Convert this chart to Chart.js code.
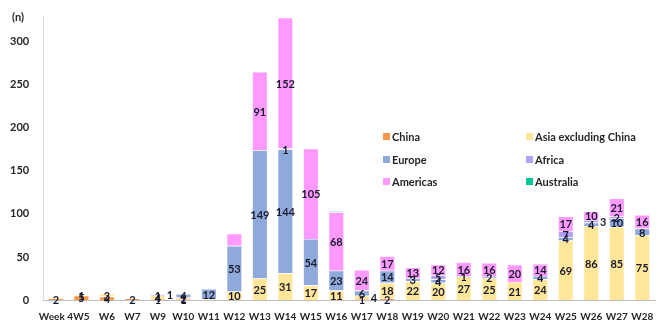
<!DOCTYPE html>
<html>
<head>
<meta charset="utf-8">
<script src="https://cdn.jsdelivr.net/npm/chart.js@4.4.1/dist/chart.umd.min.js"></script>
<style>
  html, body { margin: 0; padding: 0; background: #fff; }
  #wrap { position: relative; width: 667px; height: 332px; }
</style>
</head>
<body>
<div id="wrap"><canvas id="weeklyChart" width="667" height="332"></canvas></div>
<script>
// Categories (weeks)
const weeks = ['Week 4', 'W5', 'W6', 'W7', 'W9', 'W10', 'W11', 'W12', 'W13', 'W14', 'W15', 'W16',
    'W17', 'W18', 'W19', 'W20', 'W21', 'W22', 'W23', 'W24', 'W25', 'W26', 'W27', 'W28'];

// Series values, stacked bottom to top
const china     = [2, 5, 4, 2, 1, 1, 0, 0, 0, 0, 0, 0, 1, 2, 0, 0, 0, 0, 0, 0, 0, 0, 0, 0];
const asiaExCn  = [0, 1, 3, 0, 4, 2, 1, 10, 25, 31, 17, 11, 4, 18, 22, 20, 27, 25, 21, 24, 69, 86, 85, 75];
const europe    = [0, 0, 0, 0, 1, 4, 12, 53, 149, 144, 54, 23, 6, 14, 3, 4, 1, 2, 0, 4, 4, 4, 10, 8];
const africa    = [0, 0, 0, 0, 1, 0, 0, 0, 0, 1, 0, 0, 0, 0, 0, 5, 0, 0, 0, 0, 7, 3, 2, 0];
const americas  = [0, 0, 0, 0, 0, 0, 0, 14, 91, 152, 105, 68, 24, 17, 13, 12, 16, 16, 20, 14, 17, 10, 21, 16];
const australia = [0, 0, 0, 0, 0, 0, 0, 0, 0, 0, 0, 1, 0, 0, 0, 0, 0, 0, 0, 0, 0, 0, 0, 0];

// Tick labels for y axis
const yTicks = [0, 50, 100, 150, 200, 250, 300];

// Segments the original leaves unlabelled, and labels it pushes to the side
const unlabelled = ['Asia excluding China|W11', 'Americas|W12', 'Australia|W16'];
const sideLabels = ['Africa|W9', 'Asia excluding China|W17', 'Africa|W26'];

const fontFamily = 'Lato, "Liberation Sans", sans-serif';
const textColor = '#262626';

// Writes each segment's value in its middle
const valueLabels = {
    id: 'valueLabels',
    afterDatasetsDraw(chart) {
        const ctx = chart.ctx;
        ctx.save();
        ctx.font = 'bold 11px ' + fontFamily;
        ctx.fillStyle = '#1a1a2e';
        ctx.textAlign = 'center';
        ctx.textBaseline = 'middle';
        chart.data.datasets.forEach(function(ds, i) {
            chart.getDatasetMeta(i).data.forEach(function(bar, j) {
                const v = ds.data[j];
                if (!v) return;
                const key = ds.label + '|' + chart.data.labels[j];
                if (unlabelled.indexOf(key) >= 0) return;
                const dx = sideLabels.indexOf(key) >= 0 ? 12 : 0;
                const mid = (bar.y + bar.base) / 2;
                ctx.fillText(v, bar.x + dx, mid + 1);
            });
        });
        ctx.restore();
    }
};

// Two-column legend inside the plot, plus the "(n)" unit label
const innerLegend = {
    id: 'innerLegend',
    afterDraw(chart) {
        const ctx = chart.ctx;
        const ds = chart.data.datasets;
        const cols = [383, 526];
        const rows = [136, 159, 181];
        ctx.save();
        ctx.font = 'bold 11px ' + fontFamily;
        ctx.textBaseline = 'middle';
        ds.forEach(function(d, i) {
            const x = cols[i % 2];
            const y = rows[Math.floor(i / 2)];
            ctx.fillStyle = d.backgroundColor;
            ctx.fillRect(x, y - 3, 7, 7);
            ctx.fillStyle = textColor;
            ctx.textAlign = 'left';
            ctx.fillText(d.label, x + 9, y + 1);
        });
        ctx.fillStyle = textColor;
        ctx.textAlign = 'left';
        ctx.fillText('(n)', 12, 17);
        ctx.restore();
    }
};

const ctx = document.getElementById('weeklyChart').getContext('2d');
new Chart(ctx, {
    type: 'bar',
    data: {
        labels: weeks,
        datasets: [
            { label: 'China', data: china, backgroundColor: '#f79646' },
            { label: 'Asia excluding China', data: asiaExCn, backgroundColor: '#ffe699' },
            { label: 'Europe', data: europe, backgroundColor: '#8eaadb' },
            { label: 'Africa', data: africa, backgroundColor: '#b4a0f5' },
            { label: 'Americas', data: americas, backgroundColor: '#ff99ff' },
            { label: 'Australia', data: australia, backgroundColor: '#00c896' }
        ].map(function(d) {
            return Object.assign(d, {
                borderColor: '#ffffff',
                borderWidth: 0.6,
                barPercentage: 0.6,
                categoryPercentage: 1.0
            });
        })
    },
    options: {
        responsive: false,
        animation: false,
        layout: { padding: { left: 4, top: 16, right: 12, bottom: 6 } },
        plugins: {
            legend: { display: false },
            tooltip: { enabled: false }
        },
        scales: {
            x: {
                stacked: true,
                grid: { display: false },
                border: { color: '#bfbfbf' },
                ticks: {
                    color: textColor,
                    font: { family: fontFamily, size: 10, weight: 'bold' },
                    maxRotation: 0,
                    autoSkip: false,
                    padding: 3
                }
            },
            y: {
                stacked: true,
                min: 0,
                max: 330,
                grid: { display: false },
                border: { color: '#d9d9d9' },
                afterBuildTicks: function(axis) {
                    axis.ticks = yTicks.map(function(v) { return { value: v }; });
                },
                ticks: {
                    color: textColor,
                    font: { family: fontFamily, size: 11, weight: 'bold' },
                    padding: 6
                }
            }
        }
    },
    plugins: [valueLabels, innerLegend]
});
</script>
</body>
</html>
